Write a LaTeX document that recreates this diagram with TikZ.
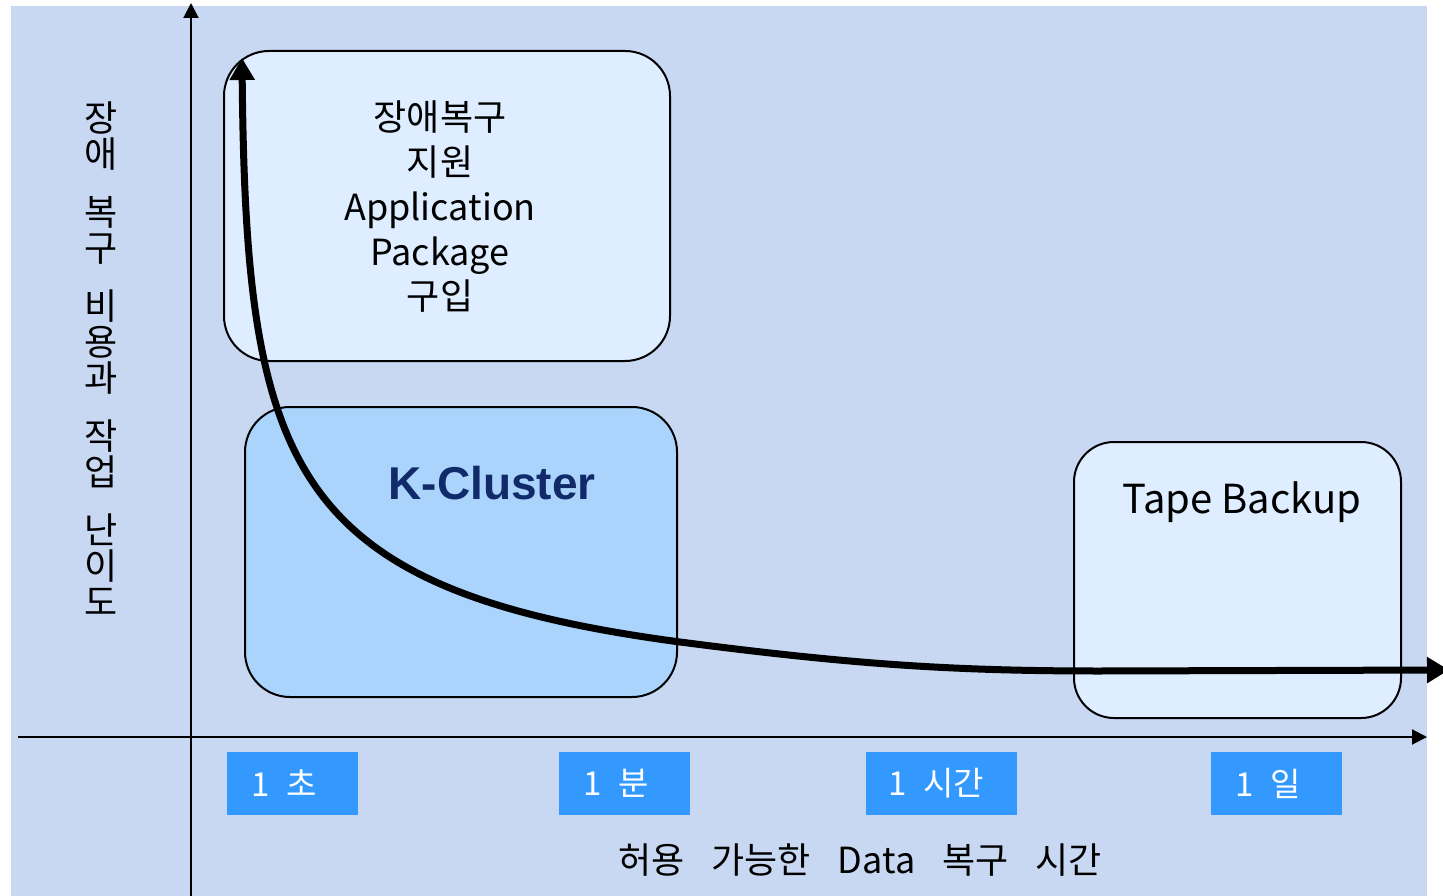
\documentclass[tikz,border=0pt]{standalone}
\usepackage{fontspec}
\newfontfamily\kr{Noto Sans CJK KR}
\newfontfamily\arialb{Liberation Sans}
\usetikzlibrary{arrows.meta}
\definecolor{bgblue}{RGB}{200,216,242}
\definecolor{lightbox}{RGB}{222,237,255}
\definecolor{kbox}{RGB}{170,212,252}
\definecolor{tickblue}{RGB}{51,153,255}
\definecolor{navy}{RGB}{16,42,106}
\tikzset{
  roundbox/.style={draw=black, line width=2pt, rounded corners=45pt},
  ticklab/.style={fill=tickblue, text=white, inner sep=0pt, minimum width=131pt, minimum height=63pt, font=\kr\fontsize{33}{36}\selectfont},
  axis/.style={line width=2pt, -{Triangle[width=15pt,length=15pt]}},
  curve/.style={line width=7pt, {Triangle[width=24pt,length=22pt]}-{Triangle[width=25pt,length=22pt]}},
}
\begin{document}
\begin{tikzpicture}[x=1pt,y=-1pt]
\useasboundingbox (0,0) rectangle (1443,896);
\fill[bgblue] (11,6) rectangle (1427,896);
% boxes
\draw[roundbox, fill=lightbox] (224,51) rectangle (670,361);
\node[align=center, font=\kr\fontsize{36}{44.75}\selectfont, inner sep=0pt] (app) at (440,207) {장애복구\\지원\\Application\\Package\\구입};
\draw[roundbox, fill=kbox] (245,407) rectangle (677,697);
\node[font=\arialb\bfseries\fontsize{46}{50}\selectfont, text=navy, inner sep=0pt] (kc) at (492,483) {K-Cluster};
\draw[roundbox, fill=lightbox, rounded corners=40pt] (1074,442) rectangle (1401,718);
\node[font=\kr\fontsize{40}{44}\selectfont, inner sep=0pt] (tape) at (1242,502) {Tape Backup};
% axes
\coordinate (origin) at (191,737);
\coordinate (ybot) at (191,896);
\coordinate (ytop) at (191,3);
\coordinate (xleft) at (18,737);
\coordinate (xright) at (1427,737);
\draw[axis] (ybot) -- (ytop);
\draw[axis] (xleft) -- (xright);
% curve
\coordinate (ctop) at (242,58);
\coordinate (cright) at (1449,670);
\draw[curve] (ctop) .. controls (246,470) and (290,590) .. (680,642)
  .. controls (850,664) and (950,671) .. (1100,671) -- (cright);
% tick labels
\node[ticklab] (t1) at (292.5,783.5) {1\hspace{0.5em}초\rule{0.5em}{0pt}};
\node[ticklab] (t2) at (624.5,783.5) {1\hspace{0.5em}분\rule{0.5em}{0pt}};
\node[ticklab, minimum width=151pt] (t3) at (941.5,783.5) {1\hspace{0.5em}시간\rule{0.3em}{0pt}};
\node[ticklab] (t4) at (1276.5,783.5) {1\hspace{0.5em}일\rule{0.5em}{0pt}};
% axis labels
\node[font=\kr\fontsize{36}{40}\selectfont, inner sep=0pt] (xlab) at (860,860) {허용\hspace{0.75em}가능한\hspace{0.75em}Data\hspace{0.75em}복구\hspace{0.75em}시간};
\node[align=center, font=\kr\fontsize{36}{36}\selectfont, inner sep=0pt] (ylab) at (101,359) {장\\애\\[22pt]복\\구\\[22pt]비\\용\\과\\[22pt]작\\업\\[22pt]난\\이\\도};
\end{tikzpicture}
\end{document}
